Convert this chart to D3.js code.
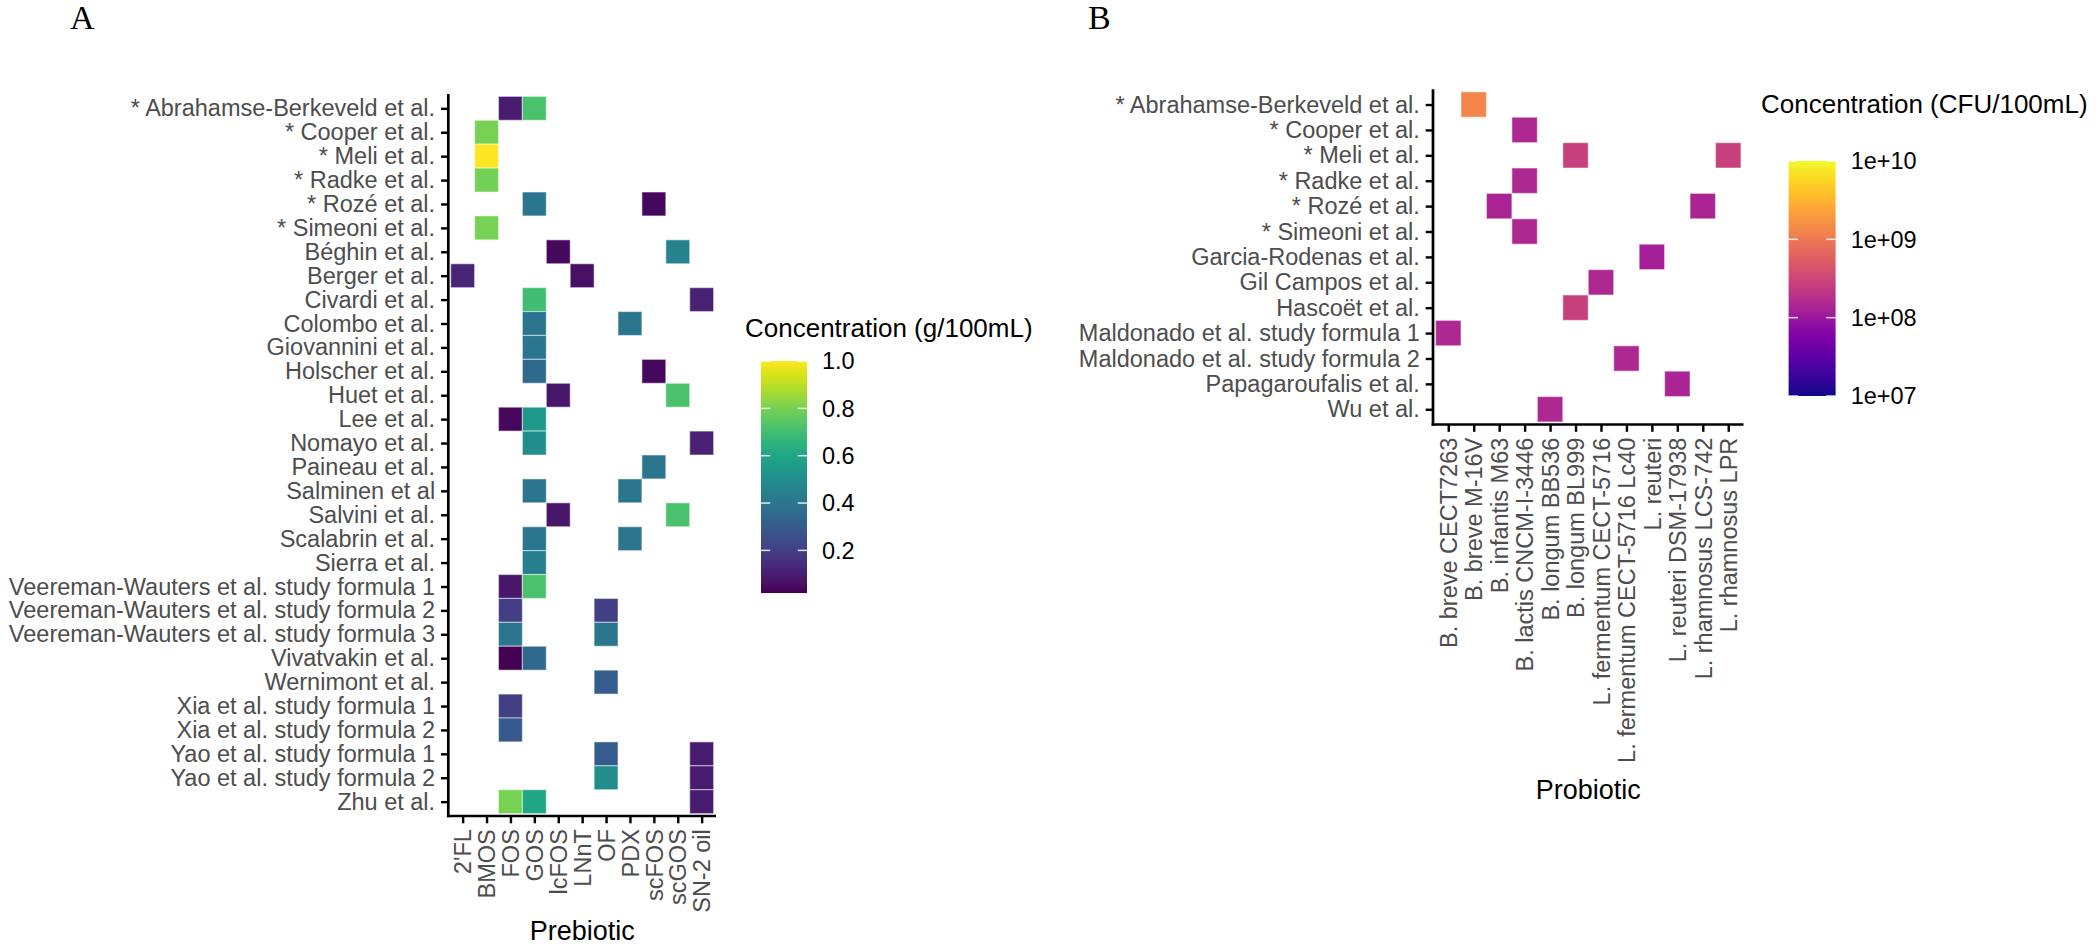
<!DOCTYPE html>
<html>
<head>
<meta charset="utf-8">
<script src="https://cdn.jsdelivr.net/npm/d3@7"></script>
<style>
  html, body { margin: 0; padding: 0; background: #ffffff; }
  svg { display: block; }
</style>
</head>
<body>
<svg id="chart" width="2100" height="945"></svg>
<script>
// ---------------- DATA ----------------
const prebiotics = ["2'FL", "BMOS", "FOS", "GOS", "lcFOS", "LNnT", "OF", "PDX", "scFOS", "scGOS", "SN-2 oil"];
const studiesA = [
  "* Abrahamse-Berkeveld et al.", "* Cooper et al.", "* Meli et al.", "* Radke et al.",
  "* Rozé et al.", "* Simeoni et al.", "Béghin et al.", "Berger et al.", "Civardi et al.",
  "Colombo et al.", "Giovannini et al.", "Holscher et al.", "Huet et al.", "Lee et al.",
  "Nomayo et al.", "Paineau et al.", "Salminen et al", "Salvini et al.", "Scalabrin et al.",
  "Sierra et al.", "Veereman-Wauters et al. study formula 1", "Veereman-Wauters et al. study formula 2",
  "Veereman-Wauters et al. study formula 3", "Vivatvakin et al.", "Wernimont et al.",
  "Xia et al. study formula 1", "Xia et al. study formula 2", "Yao et al. study formula 1",
  "Yao et al. study formula 2", "Zhu et al."
];
// [study, prebiotic, concentration g/100mL]
const prebioticCells = [
  ["* Abrahamse-Berkeveld et al.", "FOS", 0.10], ["* Abrahamse-Berkeveld et al.", "GOS", 0.72],
  ["* Cooper et al.", "BMOS", 0.80],
  ["* Meli et al.", "BMOS", 1.00],
  ["* Radke et al.", "BMOS", 0.79],
  ["* Rozé et al.", "GOS", 0.40], ["* Rozé et al.", "scFOS", 0.04],
  ["* Simeoni et al.", "BMOS", 0.80],
  ["Béghin et al.", "lcFOS", 0.04], ["Béghin et al.", "scGOS", 0.45],
  ["Berger et al.", "2'FL", 0.12], ["Berger et al.", "LNnT", 0.06],
  ["Civardi et al.", "GOS", 0.70], ["Civardi et al.", "SN-2 oil", 0.11],
  ["Colombo et al.", "GOS", 0.40], ["Colombo et al.", "PDX", 0.40],
  ["Giovannini et al.", "GOS", 0.40],
  ["Holscher et al.", "GOS", 0.35], ["Holscher et al.", "scFOS", 0.04],
  ["Huet et al.", "lcFOS", 0.08], ["Huet et al.", "scGOS", 0.72],
  ["Lee et al.", "FOS", 0.04], ["Lee et al.", "GOS", 0.55],
  ["Nomayo et al.", "GOS", 0.50], ["Nomayo et al.", "SN-2 oil", 0.11],
  ["Paineau et al.", "scFOS", 0.40],
  ["Salminen et al", "GOS", 0.40], ["Salminen et al", "PDX", 0.40],
  ["Salvini et al.", "lcFOS", 0.08], ["Salvini et al.", "scGOS", 0.72],
  ["Scalabrin et al.", "GOS", 0.40], ["Scalabrin et al.", "PDX", 0.40],
  ["Sierra et al.", "GOS", 0.44],
  ["Veereman-Wauters et al. study formula 1", "FOS", 0.08], ["Veereman-Wauters et al. study formula 1", "GOS", 0.72],
  ["Veereman-Wauters et al. study formula 2", "FOS", 0.20], ["Veereman-Wauters et al. study formula 2", "OF", 0.20],
  ["Veereman-Wauters et al. study formula 3", "FOS", 0.40], ["Veereman-Wauters et al. study formula 3", "OF", 0.40],
  ["Vivatvakin et al.", "FOS", 0.02], ["Vivatvakin et al.", "GOS", 0.35],
  ["Wernimont et al.", "OF", 0.30],
  ["Xia et al. study formula 1", "FOS", 0.20],
  ["Xia et al. study formula 2", "FOS", 0.29],
  ["Yao et al. study formula 1", "OF", 0.30], ["Yao et al. study formula 1", "SN-2 oil", 0.10],
  ["Yao et al. study formula 2", "OF", 0.50], ["Yao et al. study formula 2", "SN-2 oil", 0.10],
  ["Zhu et al.", "FOS", 0.80], ["Zhu et al.", "GOS", 0.60], ["Zhu et al.", "SN-2 oil", 0.10]
];
const prebioticLegendTicks = [0.2, 0.4, 0.6, 0.8, 1.0];

const probiotics = [
  "B. breve CECT7263", "B. breve M-16V", "B. infantis M63", "B. lactis CNCM-I-3446",
  "B. longum BB536", "B. longum BL999", "L. fermentum CECT-5716", "L. fermentum CECT-5716 Lc40",
  "L. reuteri", "L. reuteri DSM-17938", "L. rhamnosus LCS-742", "L. rhamnosus LPR"
];
const studiesB = [
  "* Abrahamse-Berkeveld et al.", "* Cooper et al.", "* Meli et al.", "* Radke et al.",
  "* Rozé et al.", "* Simeoni et al.", "Garcia-Rodenas et al.", "Gil Campos et al.",
  "Hascoët et al.", "Maldonado et al. study formula 1", "Maldonado et al. study formula 2",
  "Papagaroufalis et al.", "Wu et al."
];
// [study, probiotic, concentration CFU/100mL]
const probioticCells = [
  ["* Abrahamse-Berkeveld et al.", "B. breve M-16V", 1.3e9],
  ["* Cooper et al.", "B. lactis CNCM-I-3446", 1.5e8],
  ["* Meli et al.", "B. longum BL999", 2.8e8], ["* Meli et al.", "L. rhamnosus LPR", 2.8e8],
  ["* Radke et al.", "B. lactis CNCM-I-3446", 1.5e8],
  ["* Rozé et al.", "B. infantis M63", 1.4e8], ["* Rozé et al.", "L. rhamnosus LCS-742", 1.4e8],
  ["* Simeoni et al.", "B. lactis CNCM-I-3446", 1.5e8],
  ["Garcia-Rodenas et al.", "L. reuteri", 1.2e8],
  ["Gil Campos et al.", "L. fermentum CECT-5716", 1.5e8],
  ["Hascoët et al.", "B. longum BL999", 2.8e8],
  ["Maldonado et al. study formula 1", "B. breve CECT7263", 1.5e8],
  ["Maldonado et al. study formula 2", "L. fermentum CECT-5716 Lc40", 1.5e8],
  ["Papagaroufalis et al.", "L. reuteri DSM-17938", 1.4e8],
  ["Wu et al.", "B. longum BB536", 1.5e8]
];
const probioticLegendTicks = [1e7, 1e8, 1e9, 1e10];
const probioticLegendLabels = ["1e+07", "1e+08", "1e+09", "1e+10"];

// ---------------- DRAWING ----------------
const svg = d3.select("#chart");
const SANS = "'Liberation Sans', Arial, Helvetica, sans-serif";
const SERIF = "'Liberation Serif', 'Times New Roman', serif";
const TICK_FS = 23.5, TITLE_FS = 27, LEG_TITLE_FS = 26, LEG_FS = 23.5;
const AX_W = 2.7, TICK_LEN = 7.3, TICK_PAD = 5.9;

function heatmap(opts) {
  const g = svg.append("g");
  const x = d3.scalePoint().domain(opts.cols).range([opts.x0, opts.x1]).padding(0.6);
  const y = d3.scalePoint().domain(opts.rows).range([opts.y0, opts.y1]).padding(0.6);
  const sx = x.step(), sy = y.step();

  g.append("g").selectAll("rect").data(opts.cells).join("rect")
    .attr("x", d => x(d[1]) - sx / 2)
    .attr("y", d => y(d[0]) - sy / 2)
    .attr("width", sx).attr("height", sy)
    .attr("fill", d => opts.color(d[2]))
    .attr("stroke", "#ffffff").attr("stroke-opacity", 0.45).attr("stroke-width", 1.2);

  // y axis
  const ya = g.append("g").attr("transform", `translate(${opts.x0},0)`)
    .call(d3.axisLeft(y).tickSize(TICK_LEN).tickSizeOuter(0).tickPadding(TICK_PAD));
  ya.select(".domain").remove();
  ya.append("line").attr("x1", 0).attr("x2", 0).attr("y1", opts.y0).attr("y2", opts.y1 + AX_W / 2)
    .attr("stroke", "#000").attr("stroke-width", AX_W);
  ya.selectAll(".tick line").attr("stroke", "#000").attr("stroke-width", AX_W * 0.9);
  ya.selectAll(".tick text").attr("fill", "#4D4D4D").attr("font-size", TICK_FS).attr("font-family", SANS);

  // x axis
  const xa = g.append("g").attr("transform", `translate(0,${opts.y1})`)
    .call(d3.axisBottom(x).tickSize(TICK_LEN).tickSizeOuter(0).tickPadding(TICK_PAD));
  xa.select(".domain").remove();
  xa.append("line").attr("x1", opts.x0 - AX_W / 2).attr("x2", opts.x1).attr("y1", 0).attr("y2", 0)
    .attr("stroke", "#000").attr("stroke-width", AX_W);
  xa.selectAll(".tick line").attr("stroke", "#000").attr("stroke-width", AX_W * 0.9);
  xa.selectAll(".tick text")
    .attr("fill", "#4D4D4D").attr("font-size", TICK_FS).attr("font-family", SANS)
    .attr("transform", "rotate(-90)")
    .attr("text-anchor", "end")
    .attr("x", -(TICK_LEN + TICK_PAD)).attr("y", 0).attr("dy", "0.35em");

  // axis title
  g.append("text").attr("x", (opts.x0 + opts.x1) / 2).attr("y", opts.titleY)
    .attr("text-anchor", "middle").attr("font-family", SANS).attr("font-size", TITLE_FS)
    .attr("fill", "#000").text(opts.title);
  return g;
}

function colorbar(opts) {
  const g = svg.append("g");
  const id = "grad" + opts.id;
  const grad = svg.append("defs").append("linearGradient").attr("id", id)
    .attr("x1", 0).attr("y1", 1).attr("x2", 0).attr("y2", 0);
  d3.range(0, 1.0001, 0.02).forEach(t => {
    grad.append("stop").attr("offset", t).attr("stop-color", opts.interp(t));
  });
  g.append("rect").attr("x", opts.x).attr("y", opts.yTop).attr("width", opts.w)
    .attr("height", opts.yBot - opts.yTop).attr("fill", `url(#${id})`);
  const tl = opts.w * 0.2;
  opts.ticks.forEach((v, i) => {
    const yy = opts.scale(v);
    g.append("line").attr("x1", opts.x).attr("x2", opts.x + tl).attr("y1", yy).attr("y2", yy)
      .attr("stroke", "#fff").attr("stroke-width", 1.5).attr("stroke-opacity", 0.85);
    g.append("line").attr("x1", opts.x + opts.w - tl).attr("x2", opts.x + opts.w).attr("y1", yy).attr("y2", yy)
      .attr("stroke", "#fff").attr("stroke-width", 1.5).attr("stroke-opacity", 0.85);
    g.append("text").attr("x", opts.labelX).attr("y", yy).attr("dy", "0.35em")
      .attr("font-family", SANS).attr("font-size", LEG_FS).attr("fill", "#000")
      .text(opts.labels[i]);
  });
  g.append("text").attr("x", opts.titleX).attr("y", opts.titleY)
    .attr("font-family", SANS).attr("font-size", LEG_TITLE_FS).attr("fill", "#000")
    .text(opts.title);
}

// ---- Panel A ----
const domA = d3.extent(prebioticCells, d => d[2]);
const colA = d3.scaleSequential(d3.interpolateViridis).domain(domA);
heatmap({
  cols: prebiotics, rows: studiesA, cells: prebioticCells, color: colA,
  x0: 448.3, x1: 716, y0: 94, y1: 816, title: "Prebiotic", titleY: 940
});
const legA = d3.scaleLinear().domain(domA).range([593, 361]);
colorbar({
  id: "A", interp: d3.interpolateViridis, x: 761, w: 46, yTop: legA(domA[1]), yBot: legA(domA[0]),
  scale: legA, ticks: prebioticLegendTicks, labels: prebioticLegendTicks.map(d3.format(".1f")),
  labelX: 822, title: "Concentration  (g/100mL)", titleX: 745, titleY: 336.5
});

// ---- Panel B ----
const domB = [1e7, 1e10];
const logB = d3.scaleLog().domain(domB).range([0, 1]);
const colB = v => d3.interpolatePlasma(logB(v));
heatmap({
  cols: probiotics, rows: studiesB, cells: probioticCells, color: colB,
  x0: 1433, x1: 1743.5, y0: 89.3, y1: 424.5, title: "Probiotic", titleY: 799
});
const legB = d3.scaleLog().domain(domB).range([396, 161]);
colorbar({
  id: "B", interp: d3.interpolatePlasma, x: 1788.6, w: 47, yTop: legB(domB[1]), yBot: legB(domB[0]),
  scale: legB, ticks: probioticLegendTicks, labels: probioticLegendLabels,
  labelX: 1850.7, title: "Concentration (CFU/100mL)", titleX: 1761, titleY: 113
});

// ---- Panel tags ----
svg.append("text").attr("x", 70).attr("y", 28.5).attr("font-family", SERIF).attr("font-size", 34)
  .attr("fill", "#000").text("A");
svg.append("text").attr("x", 1088).attr("y", 28.5).attr("font-family", SERIF).attr("font-size", 34)
  .attr("fill", "#000").text("B");
</script>
</body>
</html>
